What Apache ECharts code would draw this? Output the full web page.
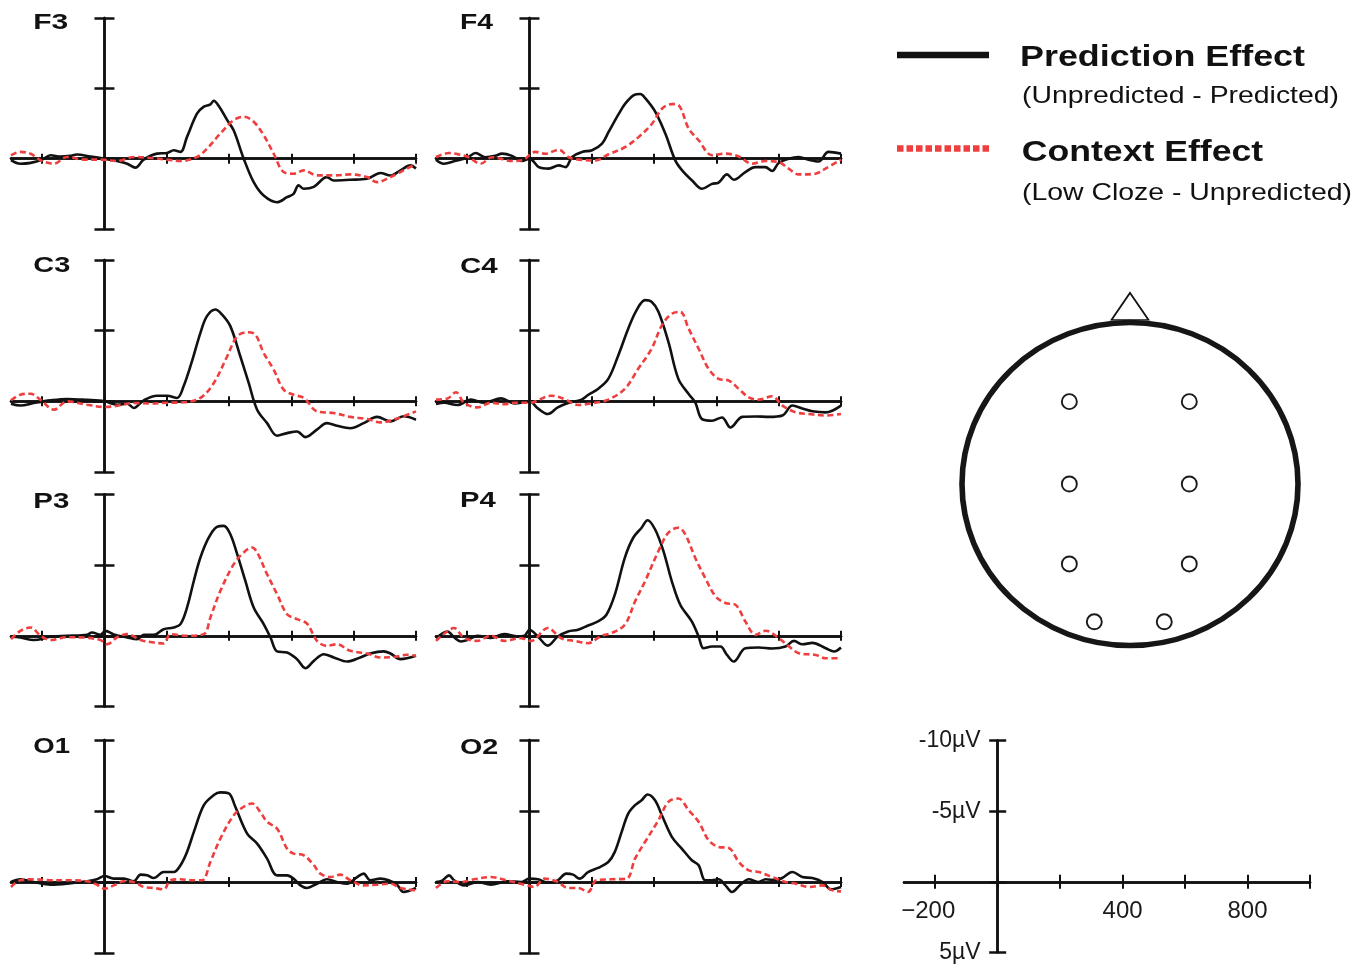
<!DOCTYPE html>
<html>
<head>
<meta charset="utf-8">
<script src="https://cdn.jsdelivr.net/npm/echarts@6/dist/echarts.min.js"></script>
<style>html,body{margin:0;padding:0;background:#fff;}#c{width:1372px;height:969px;}</style>
</head>
<body>
<div id="c"></div>
<script>
// ---------- data ----------
const PANEL_NAMES = ['F3','F4','C3','C4','P3','P4','O1','O2'];
const TIME_TICKS = [-200, 0, 200, 400, 600, 800, 1000];
const UV_TICKS = [-10, -5, 0, 5];
const SCALE_X_LABELS = [-200, 400, 800];
const SCALE_Y_LABELS = [-10, -5, 5];
const SERIES_NAMES = ['Prediction Effect', 'Context Effect'];
const SERIES_SUBTITLES = ['(Unpredicted - Predicted)', '(Low Cloze - Unpredicted)'];

const F3_pred = [[-300,0.1],[-270,0.36],[-237,0.3],[-200,0.07],[-173,-0.24],[-141,-0.15],[-110,-0.2],[-88,-0.3],[-45,-0.15],[0,0],[41,0.17],[73,0.36],[99,0.64],[126,0.07],[169,-0.36],[201,-0.4],[222,-0.6],[244,-0.48],[265,-1.55],[297,-3.2],[319,-3.7],[340,-3.86],[351,-4.12],[367,-3.74],[394,-2.74],[415,-2.0],[447,0],[479,1.67],[511,2.62],[554,3.1],[586,2.74],[607,2.5],[623,1.9],[640,2.14],[672,2.0],[714,1.31],[736,1.55],[789,1.5],[843,1.43],[886,1.02],[918,1.2],[950,0.83],[982,0.48],[1000,0.7]];
const F3_ctx = [[-300,-0.24],[-270,-0.48],[-237,-0.35],[-205,0.12],[-162,0.36],[-120,-0.12],[-66,0.07],[-13,0.07],[41,0.17],[94,-0.12],[148,-0.05],[201,0.07],[244,0.17],[297,-0.12],[329,-0.71],[372,-1.79],[415,-2.74],[447,-2.98],[479,-2.62],[511,-1.67],[543,-0.36],[575,0.95],[607,1.07],[640,0.83],[682,1.19],[736,1.19],[789,1.12],[843,1.31],[875,1.67],[918,1.31],[950,0.95],[1000,0.36]];
const F4_pred = [[-300,0.07],[-275,0.36],[-237,0.15],[-200,-0.07],[-173,-0.4],[-141,-0.1],[-110,-0.2],[-88,-0.36],[-56,-0.2],[-24,0.17],[0,0],[30,0.6],[62,0.71],[94,0.48],[116,0.6],[137,-0.12],[169,-0.48],[201,-0.6],[233,-1.07],[254,-1.9],[287,-3.2],[308,-3.93],[335,-4.52],[356,-4.6],[372,-4.29],[404,-3.33],[436,-1.79],[468,0.12],[490,0.83],[522,1.55],[554,2.14],[586,1.79],[607,1.7],[634,1.12],[656,1.5],[693,0.95],[725,0.6],[757,0.6],[779,0.88],[800,0.31],[832,0],[864,-0.12],[896,0.07],[928,0.2],[960,-0.48],[1000,-0.36]];
const F4_ctx = [[-300,-0.12],[-259,-0.4],[-227,-0.3],[-195,-0.1],[-157,0.36],[-120,-0.1],[-56,0.17],[-24,0.12],[19,-0.48],[51,-0.35],[94,-0.64],[126,-0.1],[158,0.07],[212,0.12],[254,-0.31],[308,-0.83],[351,-1.55],[394,-2.5],[426,-3.57],[458,-3.88],[479,-3.8],[511,-2.14],[543,-1.31],[586,-0.24],[629,-0.36],[672,-0.15],[714,0.36],[757,0.17],[800,0.24],[832,0.71],[864,1.12],[918,1.07],[950,0.71],[1000,0.07]];
const C3_pred = [[-300,0.17],[-270,0.3],[-227,0.12],[-173,-0.07],[-120,-0.17],[-56,-0.1],[0,0],[41,0.24],[73,0.17],[94,0.47],[126,-0.07],[169,-0.4],[201,-0.4],[233,-0.24],[254,-1.06],[281,-2.84],[308,-4.85],[329,-6.03],[356,-6.5],[377,-6.15],[404,-5.32],[436,-3.19],[463,-1.3],[490,0.59],[522,1.54],[554,2.43],[586,2.25],[618,2.13],[645,2.53],[682,2.0],[714,1.54],[746,1.73],[789,1.9],[832,1.54],[875,1.1],[918,1.42],[960,1.06],[1000,1.3]];
const C3_ctx = [[-300,-0.07],[-270,-0.47],[-237,-0.54],[-205,-0.1],[-162,0.59],[-120,0.0],[-56,0.24],[0,0.4],[30,0.35],[94,0.12],[148,0.15],[201,0.1],[254,0.07],[308,-0.24],[351,-1.3],[394,-3.19],[426,-4.6],[458,-4.89],[484,-4.73],[511,-3.43],[543,-2.25],[575,-0.83],[607,-0.47],[640,-0.24],[682,0.71],[736,0.83],[789,1.1],[843,1.25],[886,1.49],[928,1.3],[1000,0.71]];
const C4_pred = [[-300,0.19],[-274,0.1],[-231,0.26],[-188,-0.12],[-145,0.1],[-91,-0.21],[-48,0.15],[0,0],[27,0.5],[59,0.9],[91,0.43],[124,0.12],[167,-0.12],[188,-0.45],[220,-0.88],[253,-1.59],[285,-3.25],[317,-5.14],[344,-6.45],[371,-7.16],[392,-7.04],[414,-6.33],[446,-4.2],[478,-1.59],[511,-0.52],[532,0.07],[554,1.26],[586,1.37],[618,1.14],[645,1.85],[683,1.1],[726,1.07],[769,1.1],[812,1.0],[844,0.3],[876,0.5],[908,0.7],[951,0.78],[1000,0.3]];
const C4_ctx = [[-300,-0.12],[-263,-0.2],[-236,-0.64],[-210,0.1],[-167,0.43],[-124,0.1],[-81,0.2],[-48,0.1],[0,0.1],[70,-0.4],[113,-0.15],[156,0.26],[210,0.1],[253,-0.12],[306,-0.88],[349,-2.3],[392,-3.72],[425,-5.38],[457,-6.2],[484,-6.33],[511,-5.14],[543,-3.72],[575,-2.3],[607,-1.59],[640,-1.47],[672,-0.88],[704,-0.28],[736,-0.12],[779,-0.36],[812,0.3],[855,0.78],[898,0.9],[951,1.0],[1000,0.9]];
const P3_pred = [[-300,0.07],[-270,0.12],[-227,0.3],[-173,0.07],[-120,0],[-56,-0.07],[-40,-0.24],[-13,-0.07],[3,-0.35],[30,-0.1],[73,0.12],[105,0.24],[126,-0.07],[158,-0.07],[190,-0.47],[222,-0.59],[244,-0.83],[265,-2.0],[287,-3.9],[308,-5.54],[335,-6.96],[361,-7.71],[383,-7.78],[404,-7.19],[426,-5.78],[452,-3.9],[479,-2.0],[511,-0.83],[533,0.12],[554,1.1],[586,1.18],[618,1.65],[645,2.29],[672,1.77],[704,1.3],[736,1.53],[779,1.82],[821,1.53],[853,1.25],[896,1.1],[918,1.25],[950,1.65],[1000,1.41]];
const P3_ctx = [[-300,0.24],[-270,-0.35],[-237,-0.59],[-205,0.0],[-173,0.3],[-120,0.1],[-66,0.12],[-13,0.3],[9,0.59],[41,0.1],[73,-0.12],[116,0.3],[158,0.47],[190,0.54],[212,-0.12],[265,0.0],[319,-0.12],[340,-1.3],[372,-3.18],[415,-5.07],[447,-5.9],[474,-6.25],[490,-5.9],[522,-4.36],[554,-2.95],[586,-1.53],[618,-1.18],[650,-0.87],[682,0.35],[714,0.71],[746,0.6],[789,1.06],[843,1.25],[886,1.53],[928,1.5],[971,1.34],[1000,1.41]];
const P4_pred = [[-300,0.17],[-263,-0.31],[-242,0.1],[-220,0.4],[-199,0.3],[-167,0],[-124,0.15],[-81,-0.12],[-38,0.05],[-16,0],[0,-0.43],[27,0.05],[59,0.69],[91,0.05],[124,-0.31],[156,-0.43],[188,-0.73],[220,-1.02],[247,-1.49],[274,-2.91],[306,-5.52],[333,-6.94],[360,-7.65],[379,-8.18],[403,-7.54],[430,-6.0],[457,-3.86],[484,-2.2],[521,-1.02],[543,0.05],[559,0.88],[586,0.76],[613,0.76],[634,1.35],[656,1.82],[693,0.88],[736,0.83],[779,0.9],[822,0.76],[849,0.36],[876,0.6],[908,0.5],[951,0.88],[978,1.11],[1000,0.83]];
const P4_ctx = [[-300,0.36],[-274,-0.15],[-242,-0.55],[-210,0.15],[-167,0.36],[-124,-0.02],[-81,0.36],[-27,0.17],[5,0.36],[59,-0.55],[102,0.17],[145,0.36],[188,0.52],[231,0.0],[263,-0.19],[306,-0.78],[339,-2.44],[371,-3.86],[414,-6.0],[446,-7.3],[478,-7.65],[500,-7.18],[532,-5.52],[564,-4.1],[597,-2.8],[629,-2.32],[661,-2.2],[693,-1.02],[726,-0.07],[758,-0.36],[801,0.17],[833,0.76],[865,1.23],[919,1.35],[951,1.59],[1000,1.59]];
const O1_pred = [[-300,0],[-270,-0.19],[-227,0],[-173,0.19],[-120,0.12],[-56,-0.05],[-24,-0.19],[0,-0.42],[30,-0.24],[62,-0.24],[94,-0.05],[116,-0.52],[137,-0.47],[158,-0.28],[190,-0.7],[222,-0.7],[244,-1.18],[265,-2.12],[287,-3.53],[319,-5.41],[351,-6.12],[372,-6.31],[399,-6.24],[420,-5.3],[458,-3.41],[490,-2.7],[522,-1.65],[554,-0.47],[586,-0.47],[607,-0.24],[629,0.24],[650,0.42],[682,0.12],[714,-0.19],[746,0],[779,0.12],[811,-0.35],[832,-0.59],[853,-0.12],[886,-0.24],[912,-0.12],[939,0.19],[960,0.7],[1000,0.42]];
const O1_ctx = [[-300,0.35],[-270,-0.12],[-227,-0.19],[-173,-0.12],[-120,-0.12],[-56,-0.05],[-24,0.19],[0,0.47],[30,0.24],[62,-0.05],[94,0],[126,0.35],[158,0.42],[190,0.52],[212,-0.12],[244,-0.19],[276,-0.12],[313,-0.12],[340,-1.41],[372,-3.06],[415,-4.7],[447,-5.3],[474,-5.53],[500,-4.94],[522,-4.24],[554,-3.76],[586,-2.35],[607,-2.0],[640,-1.88],[672,-1.18],[693,-0.59],[725,-0.35],[757,-0.52],[789,-0.12],[832,0.24],[875,0.19],[918,0.12],[950,0.42],[1000,0.59]];
const O2_pred = [[-300,0],[-280,-0.1],[-258,-0.47],[-242,-0.12],[-210,0.24],[-167,0],[-124,0.19],[-70,-0.05],[-27,0],[0,-0.24],[27,-0.19],[59,0.05],[91,-0.12],[118,-0.59],[140,-0.52],[161,-0.24],[188,-0.7],[220,-0.99],[253,-1.41],[274,-2.12],[296,-3.53],[317,-4.82],[339,-5.41],[360,-5.76],[379,-6.16],[403,-5.76],[425,-4.7],[457,-3.18],[489,-2.35],[521,-1.53],[543,-1.18],[564,-0.12],[586,-0.12],[607,-0.19],[629,0.24],[650,0.7],[677,0.19],[704,-0.19],[736,0],[758,-0.19],[790,-0.12],[811,-0.28],[844,-0.7],[876,-0.35],[908,-0.28],[941,0],[968,0.52],[1000,0.35]];
const O2_ctx = [[-300,0.42],[-263,-0.05],[-220,0.0],[-177,-0.19],[-124,-0.35],[-70,-0.1],[-16,0.19],[16,0.35],[48,-0.24],[91,0.0],[124,0.42],[156,0.42],[188,0.7],[215,-0.12],[263,-0.19],[312,-0.24],[339,-1.65],[371,-2.82],[414,-4.35],[446,-5.65],[478,-5.88],[511,-5.06],[543,-4.24],[575,-2.94],[607,-2.47],[640,-2.4],[672,-1.41],[704,-0.82],[736,-0.7],[779,-0.35],[822,0],[855,0.12],[898,0.35],[941,0.24],[973,0.59],[1000,0.66]];

const PRED = [F3_pred, F4_pred, C3_pred, C4_pred, P3_pred, P4_pred, O1_pred, O2_pred];
const CTX  = [F3_ctx, F4_ctx, C3_ctx, C4_ctx, P3_ctx, P4_ctx, O1_ctx, O2_ctx];

// electrode positions on the head map (normalised head coordinates)
const ELECTRODES = [['F3',-0.361,0.51],['F4',0.353,0.51],['C3',-0.361,0.0],['C4',0.353,0.0],['P3',-0.361,-0.495],['P4',0.353,-0.495],['O1',-0.2125,-0.853],['O2',0.204,-0.853]];
const HEAD = [[0, 0]];
const NOSE = [[0, 1.10]];

// ---------- layout / style ----------
const INK = '#111';
const RED = '#ef3e3e';
const FONT = '"Liberation Sans", Arial, Helvetica, sans-serif';
const COL_LEFT = [11, 436];
const ROW_TOP = [[18, 211], [260, 212], [494.5, 212], [740, 213]];
const PANEL_W = 405;
const X_MIN = -300, X_MAX = 1000, Y_MIN = -10, Y_MAX = 5;

const grids = [], xAxes = [], yAxes = [], series = [], graphics = [];

function addAxes(g, isScale, gw, gh) {
  const xi = xAxes.length, yi = yAxes.length;
  // pixel distances from grid edges to the zero lines (used to place the labelled scale axes)
  const zeroFromLeft = (0 - X_MIN) / (X_MAX - X_MIN) * gw;
  const zeroFromBottom = (Y_MAX - 0) / (Y_MAX - Y_MIN) * gh;
  const axisLine = (idx, onZero) => ({ onZero: onZero, onZeroAxisIndex: idx, lineStyle: { color: INK, width: 2.5 } });
  ['bottom', 'top'].forEach((pos, k) => {
    const labelled = isScale && k === 0;
    xAxes.push({
      gridIndex: g, type: 'value', min: X_MIN, max: X_MAX, position: pos,
      offset: labelled ? -zeroFromBottom : 0,
      axisLine: axisLine(yi, !labelled),
      axisTick: { show: true, customValues: TIME_TICKS, inside: false, length: isScale ? 7 : 5, lineStyle: { color: INK, width: 2 } },
      axisLabel: labelled ? {
        show: true, customValues: SCALE_X_LABELS, margin: 18, color: '#1a1a1a', fontSize: 24, fontFamily: FONT,
        formatter: v => v < 0 ? '\u2212' + Math.abs(v) + '{p|}' : String(v),
        rich: { p: { width: 14 } }
      } : { show: false },
      splitLine: { show: false }
    });
  });
  ['left', 'right'].forEach((pos, k) => {
    const labelled = isScale && k === 0;
    yAxes.push({
      gridIndex: g, type: 'value', min: Y_MIN, max: Y_MAX, interval: 5, inverse: true, position: pos,
      offset: labelled ? -zeroFromLeft : 0,
      axisLine: axisLine(xi, !labelled),
      axisTick: { show: true, customValues: UV_TICKS, inside: false, length: isScale ? 8.5 : 10, lineStyle: { color: INK, width: 2.5 } },
      axisLabel: labelled ? {
        show: true, customValues: SCALE_Y_LABELS, margin: 17, color: '#1a1a1a', fontSize: 23, fontFamily: FONT,
        formatter: v => v + '\u00b5V'
      } : { show: false },
      splitLine: { show: false }
    });
  });
  return { xi, yi };
}

// waveform panels
PANEL_NAMES.forEach((name, i) => {
  const col = i % 2, row = Math.floor(i / 2);
  grids.push({ left: COL_LEFT[col], top: ROW_TOP[row][0], width: PANEL_W, height: ROW_TOP[row][1], containLabel: false, outerBoundsMode: 'none' });
  const { xi, yi } = addAxes(i, false, PANEL_W, ROW_TOP[row][1]);
  series.push({
    name: SERIES_NAMES[0], type: 'line', xAxisIndex: xi, yAxisIndex: yi, data: PRED[i],
    showSymbol: false, symbol: 'none', smooth: 0.35, silent: true, z: 3,
    lineStyle: { color: INK, width: 2.6 }
  });
  series.push({
    name: SERIES_NAMES[1], type: 'line', xAxisIndex: xi, yAxisIndex: yi, data: CTX[i],
    showSymbol: false, symbol: 'none', smooth: 0.35, silent: true, z: 4,
    lineStyle: { color: RED, width: 2.6, type: [6, 3.5] }
  });
});

// scale-bar panel
const SCALE_W = 406, SCALE_H = 211.6;
grids.push({ left: 904, top: 740.7, width: SCALE_W, height: SCALE_H, containLabel: false, outerBoundsMode: 'none' });
addAxes(8, true, SCALE_W, SCALE_H);

// head map
grids.push({ left: 962, top: 322.5, width: 336, height: 323, containLabel: false, outerBoundsMode: 'none' });
const hx = xAxes.length, hy = yAxes.length;
xAxes.push({ gridIndex: 9, type: 'value', min: -1, max: 1, show: false });
yAxes.push({ gridIndex: 9, type: 'value', min: -1, max: 1, show: false });
series.push({
  type: 'scatter', xAxisIndex: hx, yAxisIndex: hy, data: NOSE, symbol: 'triangle', symbolSize: [37, 27],
  clip: false, silent: true, z: 1, itemStyle: { color: '#fff', borderColor: INK, borderWidth: 1.6, opacity: 1 }
});
series.push({
  type: 'scatter', xAxisIndex: hx, yAxisIndex: hy, data: HEAD, symbol: 'circle', symbolSize: [336, 323],
  clip: false, silent: true, z: 2, itemStyle: { color: 'rgba(0,0,0,0)', borderColor: '#161616', borderWidth: 5.5, opacity: 1 }
});
series.push({
  type: 'scatter', xAxisIndex: hx, yAxisIndex: hy, data: ELECTRODES.map(e => [e[1], e[2]]),
  symbol: 'circle', symbolSize: 15, clip: false, silent: true, z: 3,
  itemStyle: { color: '#fff', borderColor: '#1a1a1a', borderWidth: 1.9, opacity: 1 }
});

// ---------- text helpers ----------
const mctx = document.createElement('canvas').getContext('2d');
function fitText(text, weight, size, left, cy, width) {
  const font = weight + ' ' + size + 'px ' + FONT;
  mctx.font = font;
  const w = mctx.measureText(text).width || width;
  return {
    type: 'text', x: left, y: cy, scaleX: width / w, scaleY: 1, silent: true, z: 10,
    style: { text: text, font: font, fill: INK, textAlign: 'left', textVerticalAlign: 'middle' }
  };
}

// panel labels
const LABEL_GEOM = [[33.3, 23, 35], [460, 23, 33], [33.3, 265.5, 37], [460, 266.5, 37.7], [33.3, 501.5, 36], [460, 500.5, 35.7], [33.3, 746.5, 36.7], [460, 747.5, 38.3]];
PANEL_NAMES.forEach((name, i) => {
  const g = LABEL_GEOM[i];
  graphics.push(fitText(name, 'bold', 22, g[0], g[1], g[2]));
});

// legend
graphics.push({ type: 'line', silent: true, shape: { x1: 897, y1: 55, x2: 989, y2: 55 }, style: { stroke: INK, lineWidth: 6.5 } });
graphics.push({ type: 'line', silent: true, shape: { x1: 897, y1: 148.5, x2: 990, y2: 148.5 }, style: { stroke: RED, lineWidth: 6.5, lineDash: [6.5, 3] } });
graphics.push(fitText(SERIES_NAMES[0], 'bold', 29, 1020, 57.5, 285));
graphics.push(fitText(SERIES_SUBTITLES[0], 'normal', 24, 1022, 96, 317));
graphics.push(fitText(SERIES_NAMES[1], 'bold', 29, 1021.7, 152.5, 241.5));
graphics.push(fitText(SERIES_SUBTITLES[1], 'normal', 24, 1022, 193, 330));

const chart = echarts.init(document.getElementById('c'), null, { renderer: 'canvas' });
chart.setOption({
  animation: false,
  backgroundColor: '#fff',
  textStyle: { fontFamily: FONT },
  grid: grids,
  xAxis: xAxes,
  yAxis: yAxes,
  series: series,
  graphic: graphics
});
</script>
</body>
</html>
